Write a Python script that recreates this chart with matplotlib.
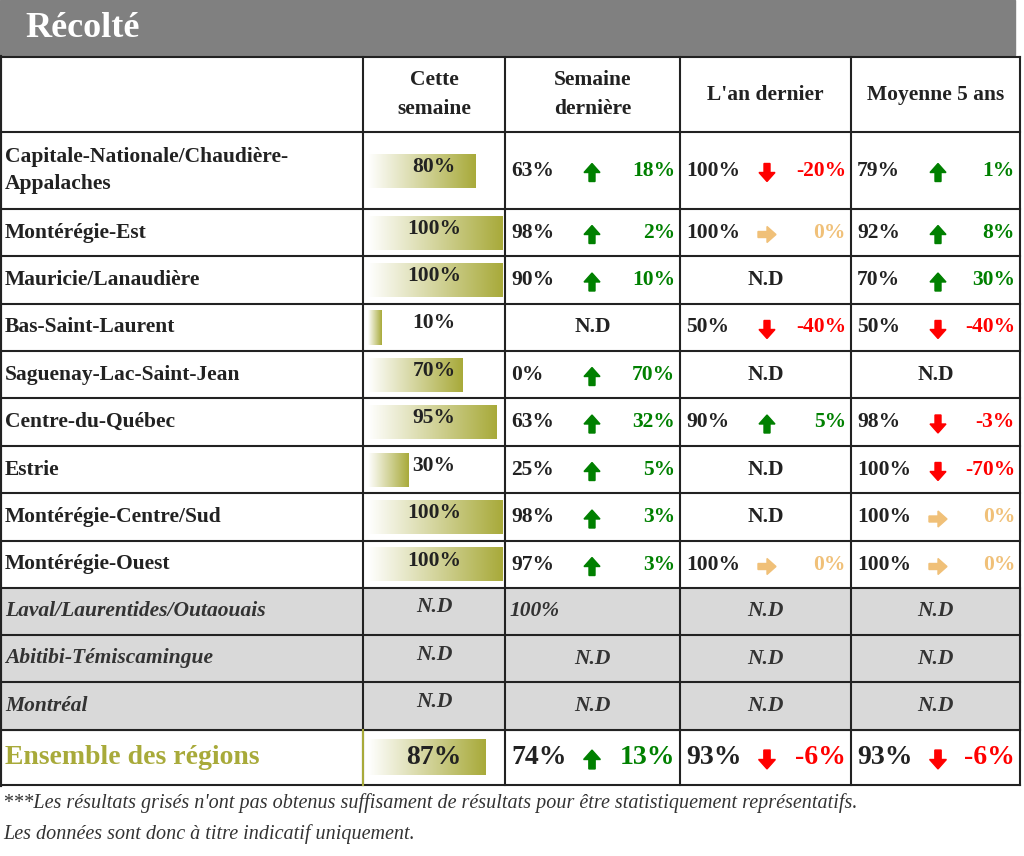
import matplotlib
matplotlib.use("Agg")
import matplotlib.pyplot as plt
import numpy as np
from matplotlib.patches import Rectangle, Polygon
from matplotlib.colors import LinearSegmentedColormap

plt.rcParams['font.family'] = ['Liberation Serif', 'DejaVu Serif']

title = "Récolté"
headers = ["Cette\nsemaine", "Semaine\ndernière", "L'an dernier", "Moyenne 5 ans"]
regions = ["Capitale-Nationale/Chaudière-\nAppalaches", "Montérégie-Est", "Mauricie/Lanaudière",
           "Bas-Saint-Laurent", "Saguenay-Lac-Saint-Jean", "Centre-du-Québec", "Estrie",
           "Montérégie-Centre/Sud", "Montérégie-Ouest",
           "Laval/Laurentides/Outaouais", "Abitibi-Témiscamingue", "Montréal"]
this_week = [80, 100, 100, 10, 70, 95, 30, 100, 100, None, None, None]
last_week = [63, 98, 90, None, 0, 63, 25, 98, 97, 100, None, None]
last_week_diff = [18, 2, 10, None, 70, 32, 5, 3, 3, None, None, None]
last_year = [100, 100, None, 50, None, 90, None, None, 100, None, None, None]
last_year_diff = [-20, 0, None, -40, None, 5, None, None, 0, None, None, None]
avg5 = [79, 92, 70, 50, None, 98, 100, 100, 100, None, None, None]
avg5_diff = [1, 8, 30, -40, None, -3, -70, 0, 0, None, None, None]
grey = [False]*9 + [True]*3
total_label = "Ensemble des régions"
total = [87, 74, 13, 93, -6, 93, -6]
footnote = ["***Les résultats grisés n'ont pas obtenus suffisament de résultats pour être statistiquement représentatifs.",
            "Les données sont donc à titre indicatif uniquement."]

W, H = 1024, 856
fig = plt.figure(figsize=(W/100, H/100), dpi=100)
ax = fig.add_axes([0, 0, 1, 1])
ax.set_xlim(0, W); ax.set_ylim(H, 0); ax.axis('off')

OLIVE = '#a8aa3a'
GREEN = '#008000'; RED = '#ff0000'; TAN = '#f0c078'
FS = 15.5
cols = [0, 363, 505, 680, 851, 1020]
rows = [57, 132, 209, 256, 304, 351, 398, 446, 493, 541, 588, 635, 682, 730, 785]

ax.add_patch(Rectangle((0, 0), 1015, 55, color='#808080'))
ax.text(25, 28, title, color='white', fontsize=26, fontweight='bold', va='center')

for i in range(len(regions)):
    if grey[i]:
        ax.add_patch(Rectangle((0, rows[i+1]), cols[-1], rows[i+2]-rows[i+1], color='#d9d9d9'))

grad = np.linspace(0, 1, 256).reshape(1, -1)
cmap = LinearSegmentedColormap.from_list('g', ['white', OLIVE])

def bar(v, yc, h=34):
    x0 = 368; w = 135 * v / 100
    ax.imshow(grad, cmap=cmap, extent=(x0, x0 + w, yc + h/2, yc - h/2), aspect='auto', zorder=2)

def arrow(x, yc, d, color, s=1.0):
    if d == 'up':
        pts = [(0, -9), (8, 0), (3, 0), (3, 9), (-3, 9), (-3, 0), (-8, 0)]
    elif d == 'down':
        pts = [(0, 9), (8, 0), (3, 0), (3, -9), (-3, -9), (-3, 0), (-8, 0)]
    else:
        pts = [(9, 0), (0, -8), (0, -3), (-9, -3), (-9, 3), (0, 3), (0, 8)]
    ax.add_patch(Polygon([(x + px*s, yc + py*s) for px, py in pts], color=color, zorder=3))

def cmp_cell(ci, val, diff, yc, fs=FS, s=1.0):
    x0, x1 = cols[ci], cols[ci+1]
    if val is None:
        ax.text((x0+x1)/2, yc, "N.D", ha='center', va='center', fontsize=fs, fontweight='bold', color='#222')
        return
    ax.text(x0 + 6, yc, f"{val}%", ha='left', va='center', fontsize=fs, fontweight='bold', color='#222')
    if diff is None:
        return
    if diff > 0: d, c = 'up', GREEN
    elif diff < 0: d, c = 'down', RED
    else: d, c = 'right', TAN
    arrow(x0 + 87, yc + 2, d, c, s)
    ax.text(x1 - 5, yc, f"{diff}%", ha='right', va='center', fontsize=fs, fontweight='bold', color=c)

for i, name in enumerate(regions):
    yc = (rows[i+1] + rows[i+2]) / 2
    if grey[i]:
        kw = dict(fontsize=FS, fontweight='bold', style='italic', va='center', color='#333')
        ax.text(5, yc, name, ha='left', **kw)
        ax.text(434, yc - 4, "N.D", ha='center', **kw)
        if last_week[i] is not None:
            ax.text(510, yc, f"{last_week[i]}%", ha='left', **kw)
        else:
            ax.text((cols[2]+cols[3])/2, yc, "N.D", ha='center', **kw)
        ax.text((cols[3]+cols[4])/2, yc, "N.D", ha='center', **kw)
        ax.text((cols[4]+cols[5])/2, yc, "N.D", ha='center', **kw)
        continue
    ax.text(5, yc, name, ha='left', va='center', fontsize=FS, fontweight='bold', color='#222', linespacing=1.5)
    v = this_week[i]
    bar(v, yc)
    ax.text(434, yc - 4, f"{v}%", ha='center', va='center', fontsize=FS, fontweight='bold', color='#222', zorder=4)
    cmp_cell(2, last_week[i], last_week_diff[i], yc)
    cmp_cell(3, last_year[i], last_year_diff[i], yc)
    cmp_cell(4, avg5[i], avg5_diff[i], yc)

yc = (rows[-2] + rows[-1]) / 2
ax.text(5, yc, total_label, ha='left', va='center', fontsize=20, fontweight='bold', color=OLIVE)
bar(total[0], yc, 36)
ax.text(434, yc, f"{total[0]}%", ha='center', va='center', fontsize=20, fontweight='bold', color='#222', zorder=4)
cmp_cell(2, total[1], total[2], yc, fs=20, s=1.05)
cmp_cell(3, total[3], total[4], yc, fs=20, s=1.05)
cmp_cell(4, total[5], total[6], yc, fs=20, s=1.05)

for ci in range(1, 6):
    ax.plot([cols[ci]]*2, [rows[0], rows[-1]], color='#222', lw=1.5, zorder=5)
ax.plot([0, 0], [rows[0], rows[-1]], color='#222', lw=3, zorder=5)
for r in rows:
    ax.plot([0, cols[-1]], [r]*2, color='#222', lw=1.5, zorder=5)
ax.plot([cols[1]]*2, [rows[-2], rows[-1]], color=OLIVE, lw=1.5, zorder=6)

for j, h in enumerate(headers):
    ax.text((cols[j+1]+cols[j+2])/2, (rows[0]+rows[1])/2, h, ha='center', va='center',
            fontsize=FS, fontweight='bold', color='#222', linespacing=1.6)

ax.text(3, 803, footnote[0], fontsize=14.5, style='italic', va='center', color='#333')
ax.text(3, 834, footnote[1], fontsize=14.5, style='italic', va='center', color='#333')

fig.savefig('out.png', dpi=100)
